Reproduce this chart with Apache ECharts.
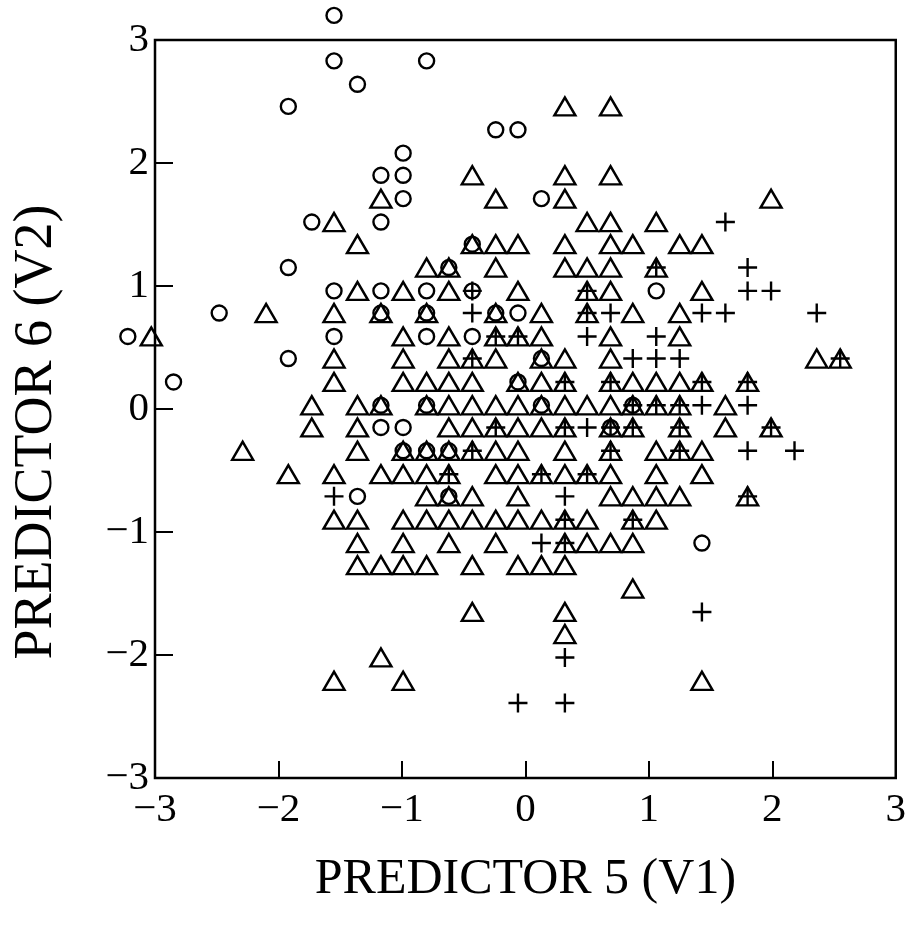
<!DOCTYPE html>
<html>
<head>
<meta charset="utf-8">
<script src="https://cdn.jsdelivr.net/npm/echarts@6/dist/echarts.min.js"></script>
<style>
html,body{margin:0;padding:0;background:#fff;}
#chart{width:909px;height:930px;}
</style>
</head>
<body>
<div id="chart"></div>
<script>
// Tick labels
var xTicks = [-3, -2, -1, 0, 1, 2, 3];
var yTicks = [-3, -2, -1, 0, 1, 2, 3];

// Circles (group 1)
var circles = [
  [-1.55,3.20],[-1.55,2.83],[-0.80,2.83],[-1.36,2.64],[-1.92,2.46],
  [-0.24,2.27],[-0.06,2.27],[-0.99,2.08],[-1.17,1.90],[-0.99,1.90],
  [-0.99,1.71],[0.13,1.71],[-1.73,1.52],[-1.17,1.52],[-0.43,1.34],
  [-1.92,1.15],[-0.62,1.15],
  [-1.55,0.96],[-1.17,0.96],[-0.80,0.96],[-0.43,0.96],[1.06,0.96],
  [-2.48,0.78],[-1.17,0.78],[-0.80,0.78],[-0.24,0.78],[-0.06,0.78],
  [-3.22,0.59],[-1.55,0.59],[-0.80,0.59],[-0.43,0.59],
  [-1.92,0.41],[0.13,0.41],
  [-2.85,0.22],[-0.06,0.22],
  [-1.17,0.03],[-0.80,0.03],[0.13,0.03],[0.87,0.03],
  [-1.17,-0.15],[-0.99,-0.15],[0.69,-0.15],
  [-0.99,-0.34],[-0.80,-0.34],[-0.62,-0.34],
  [-1.36,-0.71],[-0.62,-0.71],
  [1.43,-1.09]
];

// Triangles (group 2)
var triangles = [
  [0.32,2.46],[0.69,2.46],
  [-0.43,1.90],[0.32,1.90],[0.69,1.90],
  [-1.17,1.71],[-0.24,1.71],[0.32,1.71],[1.99,1.71],
  [-1.55,1.52],[0.50,1.52],[0.69,1.52],[1.06,1.52],
  [-1.36,1.34],[-0.43,1.34],[-0.24,1.34],[-0.06,1.34],[0.32,1.34],[0.69,1.34],[0.87,1.34],[1.25,1.34],[1.43,1.34],
  [-0.80,1.15],[-0.62,1.15],[-0.24,1.15],[0.32,1.15],[0.50,1.15],[0.69,1.15],[1.06,1.15],
  [-1.36,0.96],[-0.99,0.96],[-0.62,0.96],[-0.06,0.96],[0.50,0.96],[0.69,0.96],[1.43,0.96],
  [-2.10,0.78],[-1.55,0.78],[-1.17,0.78],[-0.80,0.78],[-0.24,0.78],[0.13,0.78],[0.50,0.78],[0.87,0.78],[1.25,0.78],
  [-3.03,0.59],[-0.99,0.59],[-0.62,0.59],[-0.24,0.59],[-0.06,0.59],[0.13,0.59],[0.69,0.59],[1.25,0.59],
  [-1.55,0.41],[-0.99,0.41],[-0.62,0.41],[-0.43,0.41],[-0.24,0.41],[0.13,0.41],[0.32,0.41],[0.69,0.41],[2.36,0.41],[2.55,0.41],
  [-1.55,0.22],[-0.99,0.22],[-0.80,0.22],[-0.62,0.22],[-0.43,0.22],[-0.06,0.22],[0.13,0.22],[0.32,0.22],[0.69,0.22],[0.87,0.22],[1.06,0.22],[1.25,0.22],[1.43,0.22],[1.80,0.22],
  [-1.73,0.03],[-1.36,0.03],[-1.17,0.03],[-0.80,0.03],[-0.62,0.03],[-0.43,0.03],[-0.24,0.03],[-0.06,0.03],[0.13,0.03],[0.32,0.03],[0.50,0.03],[0.69,0.03],[0.87,0.03],[1.06,0.03],[1.25,0.03],[1.62,0.03],
  [-1.73,-0.15],[-1.36,-0.15],[-0.62,-0.15],[-0.43,-0.15],[-0.24,-0.15],[-0.06,-0.15],[0.13,-0.15],[0.32,-0.15],[0.69,-0.15],[0.87,-0.15],[1.25,-0.15],[1.62,-0.15],[1.99,-0.15],
  [-2.29,-0.34],[-1.36,-0.34],[-0.99,-0.34],[-0.80,-0.34],[-0.62,-0.34],[-0.43,-0.34],[-0.24,-0.34],[-0.06,-0.34],[0.32,-0.34],[0.69,-0.34],[1.06,-0.34],[1.25,-0.34],[1.43,-0.34],
  [-1.92,-0.53],[-1.55,-0.53],[-1.17,-0.53],[-0.99,-0.53],[-0.80,-0.53],[-0.62,-0.53],[-0.24,-0.53],[-0.06,-0.53],[0.13,-0.53],[0.32,-0.53],[0.50,-0.53],[0.69,-0.53],[1.06,-0.53],[1.43,-0.53],
  [-0.80,-0.71],[-0.62,-0.71],[-0.43,-0.71],[-0.06,-0.71],[0.69,-0.71],[0.87,-0.71],[1.06,-0.71],[1.25,-0.71],[1.80,-0.71],
  [-1.55,-0.90],[-1.36,-0.90],[-0.99,-0.90],[-0.80,-0.90],[-0.62,-0.90],[-0.43,-0.90],[-0.24,-0.90],[-0.06,-0.90],[0.13,-0.90],[0.32,-0.90],[0.50,-0.90],[0.87,-0.90],[1.06,-0.90],
  [-1.36,-1.09],[-0.99,-1.09],[-0.62,-1.09],[-0.24,-1.09],[0.32,-1.09],[0.50,-1.09],[0.69,-1.09],[0.87,-1.09],
  [-1.36,-1.27],[-1.17,-1.27],[-0.99,-1.27],[-0.80,-1.27],[-0.43,-1.27],[-0.06,-1.27],[0.13,-1.27],[0.32,-1.27],
  [0.87,-1.46],
  [-0.43,-1.65],[0.32,-1.65],
  [0.32,-1.83],
  [-1.17,-2.02],
  [-1.55,-2.21],[-0.99,-2.21],[1.43,-2.21]
];

// Pluses (group 3)
var pluses = [
  [1.62,1.52],
  [1.06,1.15],[1.80,1.15],
  [-0.43,0.96],[0.50,0.96],[1.80,0.96],[1.99,0.96],
  [-0.43,0.78],[0.50,0.78],[0.69,0.78],[1.43,0.78],[1.62,0.78],[2.36,0.78],
  [-0.24,0.59],[-0.06,0.59],[0.50,0.59],[1.06,0.59],
  [-0.43,0.41],[0.87,0.41],[1.06,0.41],[1.25,0.41],[2.55,0.41],
  [0.32,0.22],[0.69,0.22],[1.43,0.22],[1.80,0.22],
  [0.87,0.03],[1.06,0.03],[1.25,0.03],[1.43,0.03],[1.80,0.03],
  [-0.24,-0.15],[0.32,-0.15],[0.50,-0.15],[0.69,-0.15],[0.87,-0.15],[1.25,-0.15],[1.99,-0.15],
  [-0.43,-0.34],[0.69,-0.34],[1.25,-0.34],[1.80,-0.34],[2.18,-0.34],
  [-0.62,-0.53],[0.13,-0.53],[0.50,-0.53],
  [-1.55,-0.71],[0.32,-0.71],[1.80,-0.71],
  [0.32,-0.90],[0.87,-0.90],
  [0.13,-1.09],[0.32,-1.09],
  [1.43,-1.65],
  [0.32,-2.02],
  [-0.06,-2.39],[0.32,-2.39]
];

var FONT = 'Liberation Serif';
function minusFmt(v){ return String(v).replace('-', '\u2212'); }

var chart = echarts.init(document.getElementById('chart'), null, {renderer:'canvas'});
var hollow = {color:'rgba(0,0,0,0)', borderColor:'#000', borderWidth:2.4, opacity:1};
chart.setOption({
  animation:false,
  backgroundColor:'#fff',
  grid:{left:155, top:40, width:743, height:738, show:true, borderColor:'#000', borderWidth:2.5, backgroundColor:'transparent'},
  xAxis:{
    type:'value', min:xTicks[0], max:xTicks[xTicks.length-1], interval:1,
    axisLine:{show:false, onZero:false},
    axisTick:{show:true, inside:true, length:17, lineStyle:{color:'#000', width:2}},
    splitLine:{show:false},
    axisLabel:{color:'#000', fontFamily:FONT, fontSize:41, margin:12, formatter:minusFmt},
    name:'PREDICTOR 5 (V1)', nameLocation:'middle', nameGap:77,
    nameTextStyle:{color:'#000', fontFamily:FONT, fontSize:50}
  },
  yAxis:{
    type:'value', min:yTicks[0], max:yTicks[yTicks.length-1], interval:1,
    axisLine:{show:false, onZero:false},
    axisTick:{show:true, inside:true, length:18, lineStyle:{color:'#000', width:2}},
    splitLine:{show:false},
    axisLabel:{color:'#000', fontFamily:FONT, fontSize:41, margin:6, formatter:minusFmt},
    name:'PREDICTOR 6 (V2)', nameLocation:'middle', nameGap:91, nameRotate:90,
    nameTextStyle:{color:'#000', fontFamily:FONT, fontSize:54, padding:[0,46,0,0]}
  },
  series:[
    {type:'scatter', name:'circle', data:circles, symbol:'circle', symbolSize:15, clip:false, silent:true, itemStyle:hollow, z:3},
    {type:'scatter', name:'triangle', data:triangles, symbol:'triangle', symbolSize:[21,18], clip:false, silent:true, itemStyle:hollow, z:2},
    {type:'scatter', name:'plus', data:pluses, symbol:'path://M10 0L10 20M0 10L20 10', symbolSize:19, clip:false, silent:true, itemStyle:hollow, z:4}
  ]
});
</script>
</body>
</html>
